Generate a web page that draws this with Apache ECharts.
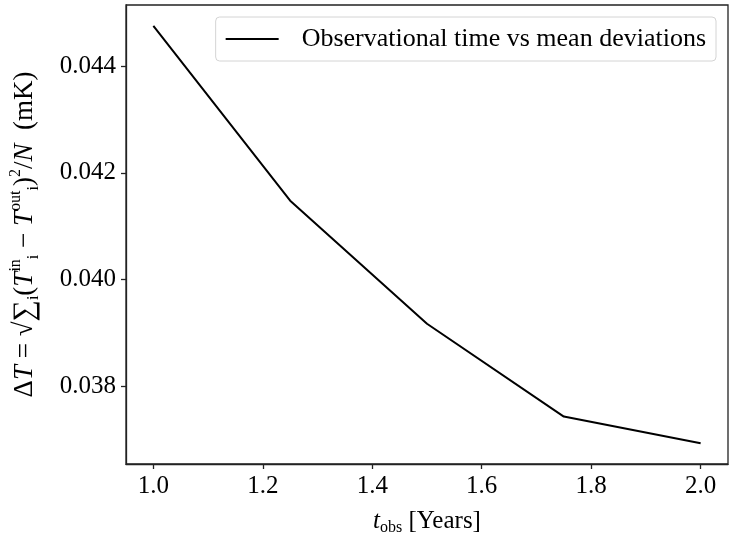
<!DOCTYPE html>
<html>
<head>
<meta charset="utf-8">
<script src="https://cdn.jsdelivr.net/npm/echarts@6/dist/echarts.min.js"></script>
<style>html,body{margin:0;padding:0;background:#fff}#c{width:734px;height:536px}</style>
</head>
<body>
<div id="c"></div>
<script>
// Data
const tObs = [1.0, 1.25, 1.5, 1.75, 2.0];
const deltaT = [0.04476, 0.04148, 0.03917, 0.03743, 0.03693];
const xTicks = [1.0, 1.2, 1.4, 1.6, 1.8, 2.0];
const yTicks = [0.038, 0.040, 0.042, 0.044];
const seriesName = 'Observational time vs mean deviations';

const FONT = 'Liberation Serif';
const chart = echarts.init(document.getElementById('c'), null, {renderer: 'canvas'});
const fs = 25, sfs = 16, yfs = 27;
const option = {
  backgroundColor: '#fff',
  animation: false,
  textStyle: {fontFamily: FONT},
  grid: {left: 126, right: 6, top: 5, bottom: 72, outerBoundsMode: 'none', show: true, borderColor: '#222', borderWidth: 1.3},
  legend: {
    show: true,
    right: 18, top: 17,
    orient: 'horizontal',
    icon: 'rect',
    itemWidth: 53, itemHeight: 2,
    padding: [9, 10, 9, 10],
    borderColor: '#d4d4d4', borderWidth: 1, borderRadius: 4,
    backgroundColor: 'rgba(255,255,255,0.8)',
    textStyle: {fontFamily: FONT, fontSize: 26, color: '#000', padding: [0, 0, 0, 18]},
    data: [{name: seriesName, itemStyle: {color: '#000'}}]
  },
  xAxis: {
    type: 'value', min: 0.95, max: 2.05,
    splitLine: {show: false},
    axisLine: {show: true, lineStyle: {color: '#222', width: 1.3}},
    axisTick: {show: true, length: 5, inside: false, customValues: xTicks, lineStyle: {color: '#222', width: 1.3}},
    axisLabel: {customValues: xTicks, formatter: v => v.toFixed(1), fontFamily: FONT, fontSize: fs, color: '#000', margin: 10},
    name: '{it|t}{sub|obs}{n| [Years]}',
    nameLocation: 'middle', nameGap: 42,
    nameTextStyle: {
      fontFamily: FONT, fontSize: fs, color: '#000',
      rich: {
        it: {fontFamily: FONT, fontStyle: 'italic', fontSize: fs, lineHeight: 30, verticalAlign: 'middle'},
        sub: {fontFamily: FONT, fontSize: sfs, lineHeight: 14, verticalAlign: 'bottom'},
        n: {fontFamily: FONT, fontSize: fs, lineHeight: 30, verticalAlign: 'middle'}
      }
    }
  },
  yAxis: {
    type: 'value', min: 0.03654, max: 0.04515,
    splitLine: {show: false},
    axisLine: {show: true, lineStyle: {color: '#222', width: 1.3}},
    axisTick: {show: true, length: 5, inside: false, customValues: yTicks, lineStyle: {color: '#222', width: 1.3}},
    axisLabel: {customValues: yTicks, formatter: v => v.toFixed(3), fontFamily: FONT, fontSize: fs, color: '#000', margin: 10},
    name: '{n|Δ}{it|T}{n| = √}{big|∑}{sub|i}{n|(}{it|T}{sup|in}{sub|i}{n| − }{it|T}{sup|out}{sub|i}{n|)}{sup|2}{n|/}{it|N}{n|  (mK)}',
    nameLocation: 'middle', nameGap: 84, nameRotate: 90,
    nameTextStyle: {
      fontFamily: FONT, fontSize: yfs, color: '#000',
      rich: {
        it: {fontFamily: FONT, fontStyle: 'italic', fontSize: yfs, lineHeight: 34, verticalAlign: 'middle'},
        n: {fontFamily: FONT, fontSize: yfs, lineHeight: 34, verticalAlign: 'middle'},
        big: {fontFamily: FONT, fontSize: 30, lineHeight: 34, verticalAlign: 'middle'},
        sub: {fontFamily: FONT, fontSize: sfs, lineHeight: 16, verticalAlign: 'bottom'},
        sup: {fontFamily: FONT, fontSize: sfs, lineHeight: 16, verticalAlign: 'top'}
      }
    }
  },
  series: [{
    name: seriesName,
    type: 'line',
    data: tObs.map((t, i) => [t, deltaT[i]]),
    showSymbol: false, symbol: 'none',
    lineStyle: {color: '#000', width: 2},
    itemStyle: {color: '#000'}
  }]
};
chart.setOption(option);
</script>
</body>
</html>
